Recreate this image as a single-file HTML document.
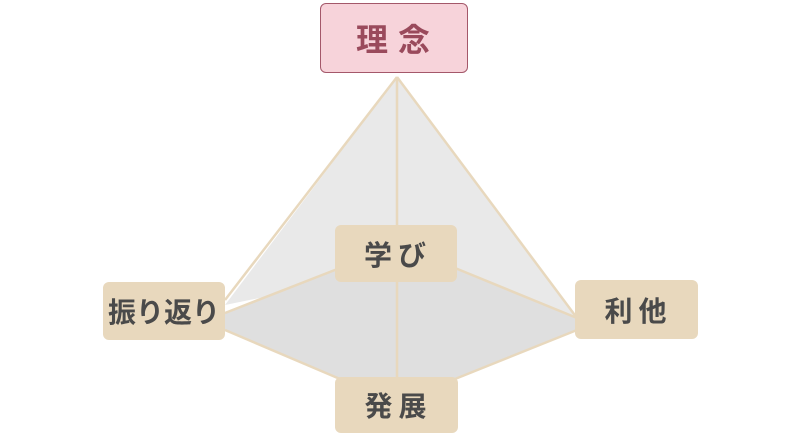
<!DOCTYPE html>
<html><head><meta charset="utf-8"><style>
body{margin:0;width:800px;height:438px;background:#fff;overflow:hidden;position:relative;font-family:"Liberation Sans","Noto Sans CJK JP",sans-serif;}
.b{position:absolute;background:#e8d8bd;border-radius:6px;color:#4a4a4a;font-weight:bold;font-size:28px;display:flex;align-items:center;justify-content:center;letter-spacing:6px;}
</style></head><body>
<svg width="800" height="438" style="position:absolute;left:0;top:0">
<polygon points="397,77 225,305 397,270" fill="#e9e9e9"/>
<polygon points="397,77 577,318 397,270" fill="#e9e9e9"/>
<polygon points="225,312 340,268 455,268 577,318 577,330 455,379 340,379 225,330" fill="#dfdfdf"/>
<g stroke="#e8d8bd" stroke-width="2.5" fill="none">
<line x1="397" y1="77" x2="225" y2="300"/>
<line x1="397" y1="77" x2="577" y2="318"/>
<line x1="397" y1="77" x2="397" y2="380"/>
<line x1="340" y1="268" x2="225" y2="313"/>
<line x1="455" y1="268" x2="577" y2="318"/>
<line x1="225" y1="330" x2="340" y2="379"/>
<line x1="577" y1="330" x2="455" y2="379"/>
</g>
</svg>
<div class="b" style="left:320px;top:3px;width:148px;height:70px;background:#f7d3da;border:1.5px solid #a4586a;box-sizing:border-box;color:#9a4a5c;font-size:32px;letter-spacing:10px;padding-left:8px">理念</div>
<div class="b" style="left:335px;top:225px;width:122px;height:57px;padding-left:4px;box-sizing:border-box">学び</div>
<div class="b" style="left:103px;top:282px;width:122px;height:58px;letter-spacing:0">振り返り</div>
<div class="b" style="left:335px;top:377px;width:123px;height:56px;padding-left:4px;box-sizing:border-box">発展</div>
<div class="b" style="left:575px;top:280px;width:123px;height:59px;padding-left:4px;box-sizing:border-box">利他</div>
</body></html>
